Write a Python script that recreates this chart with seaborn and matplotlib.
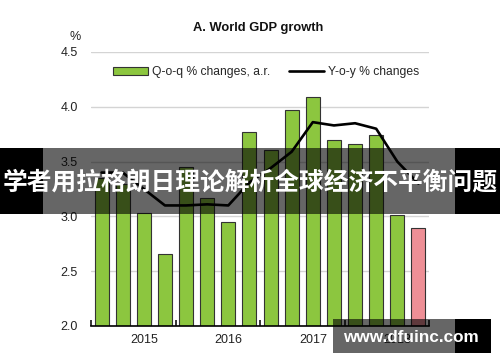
import numpy as np
import pandas as pd
import matplotlib
matplotlib.use("Agg")
import matplotlib.pyplot as plt
import seaborn as sns
from matplotlib.patches import Patch, Rectangle
from matplotlib.lines import Line2D

quarters = ["2015Q1", "2015Q2", "2015Q3", "2015Q4",
            "2016Q1", "2016Q2", "2016Q3", "2016Q4",
            "2017Q1", "2017Q2", "2017Q3", "2017Q4",
            "2018Q1", "2018Q2", "2018Q3", "2018Q4"]
qoq = [3.35, 3.30, 3.03, 2.66, 3.45, 3.17, 2.95, 3.77,
       3.61, 3.97, 4.09, 3.70, 3.66, 3.74, 3.01, 2.89]
yoy = [3.40, 3.40, 3.25, 3.10, 3.10, 3.11, 3.10, 3.31,
       3.44, 3.59, 3.86, 3.83, 3.85, 3.80, 3.50, 3.30]
kind = ["actual"] * 15 + ["projection"]
year_labels = ["2015", "2016", "2017", "2018"]
y_ticks = [2.0, 2.5, 3.0, 3.5, 4.0, 4.5]
title = "A. World GDP growth"
legend_labels = ["Q-o-q % changes, a.r.", "Y-o-y % changes"]
banner_text = "学者用拉格朗日理论解析全球经济不平衡问题"
watermark = "www.dfuinc.com"

sns.set_theme(style="white")
plt.rcParams['font.family'] = ['Liberation Sans', 'DejaVu Sans']

W, H = 500, 362
fig = plt.figure(figsize=(W / 100, H / 100), dpi=100)
ax = fig.add_axes([91 / W, 1 - 326 / H, 338 / W, 274 / H])

df = pd.DataFrame({"quarter": quarters, "qoq": qoq, "yoy": yoy, "kind": kind,
                   "pos": np.arange(len(quarters))})

green = "#8CC63F"
pink = "#EE8F96"
sns.barplot(data=df, x="quarter", y="qoq", hue="kind",
            palette={"actual": green, "projection": pink},
            dodge=False, width=0.66, saturation=1,
            edgecolor="#333333", linewidth=0.8, legend=False, ax=ax, zorder=2)
sns.lineplot(data=df, x="pos", y="yoy", color="black", linewidth=1.9,
             ax=ax, zorder=3)

ax.set_xlim(-0.5, 15.5)
ax.set_ylim(2.0, 4.5)
ax.set_xlabel("")
ax.set_ylabel("")
ax.set_yticks(y_ticks)
ax.set_yticklabels([f"{v:.1f}" for v in y_ticks], fontsize=9, color="#222222")
ax.tick_params(axis="y", length=0, pad=9.4)
ax.yaxis.grid(True, color="#d4d4d4", linewidth=1.0)
ax.xaxis.grid(False)
ax.set_axisbelow(True)

ax.set_xticks([-0.5, 3.5, 7.5, 11.5, 15.5])
ax.set_xticklabels([""] * 5)
ax.tick_params(axis="x", which="major", direction="in", length=4, width=1.1,
               color="black", bottom=True)
ax.set_xticks([2, 6, 10, 14], minor=True)
ax.set_xticklabels(year_labels, minor=True, fontsize=9, color="#222222")
ax.tick_params(axis="x", which="minor", length=0, pad=6)

for s in ["top", "right", "left"]:
    ax.spines[s].set_visible(False)
ax.spines["bottom"].set_color("black")
ax.spines["bottom"].set_linewidth(1.2)

handles = [Patch(facecolor=green, edgecolor="#333333", linewidth=0.8),
           Line2D([0], [0], color="black", linewidth=1.9)]
ax.legend(handles, legend_labels, loc="center left",
          bbox_to_anchor=(0.065, (326 - 72) / 274), ncol=2, frameon=False,
          fontsize=8.7, handlelength=2.9, handleheight=0.6,
          handletextpad=0.35, columnspacing=1.5, borderpad=0, borderaxespad=0)

fig.text(258 / W, 1 - 28 / H, title, ha="center", va="center",
         fontsize=9.3, fontweight="bold", color="#111111")
fig.text(75.5 / W, 1 - 37 / H, "%", ha="center", va="center",
         fontsize=9, color="#222222")

# banner overlay
by0, by1 = 1 - 214 / H, 1 - 148 / H
fig.add_artist(Rectangle((0, by0), 43 / W, by1 - by0, transform=fig.transFigure,
                         facecolor="black", edgecolor="none", zorder=10))
fig.add_artist(Rectangle((43 / W, by0), (455 - 43) / W, by1 - by0,
                         transform=fig.transFigure, facecolor="black",
                         alpha=0.6, edgecolor="none", zorder=10))
fig.add_artist(Rectangle((455 / W, by0), 45 / W, by1 - by0,
                         transform=fig.transFigure, facecolor="black",
                         edgecolor="none", zorder=10))
fig.text(250 / W, 1 - 183 / H, banner_text, ha="center", va="center",
         fontsize=17.8, fontweight="bold", color="white",
         family=["Noto Sans CJK SC", "DejaVu Sans"], zorder=11)

# watermark overlay
wy0, wy1 = 1 - 353 / H, 1 - 319 / H
fig.add_artist(Rectangle((333 / W, wy0), (455 - 333) / W, wy1 - wy0,
                         transform=fig.transFigure, facecolor="black",
                         alpha=0.6, edgecolor="none", zorder=10))
fig.add_artist(Rectangle((455 / W, wy0), (491 - 455) / W, wy1 - wy0,
                         transform=fig.transFigure, facecolor="black",
                         edgecolor="none", zorder=10))
fig.text(411 / W, 1 - 337 / H, watermark, ha="center", va="center",
         fontsize=12.3, fontweight="bold", color="white", zorder=11)

fig.savefig("out.png", dpi=100)
